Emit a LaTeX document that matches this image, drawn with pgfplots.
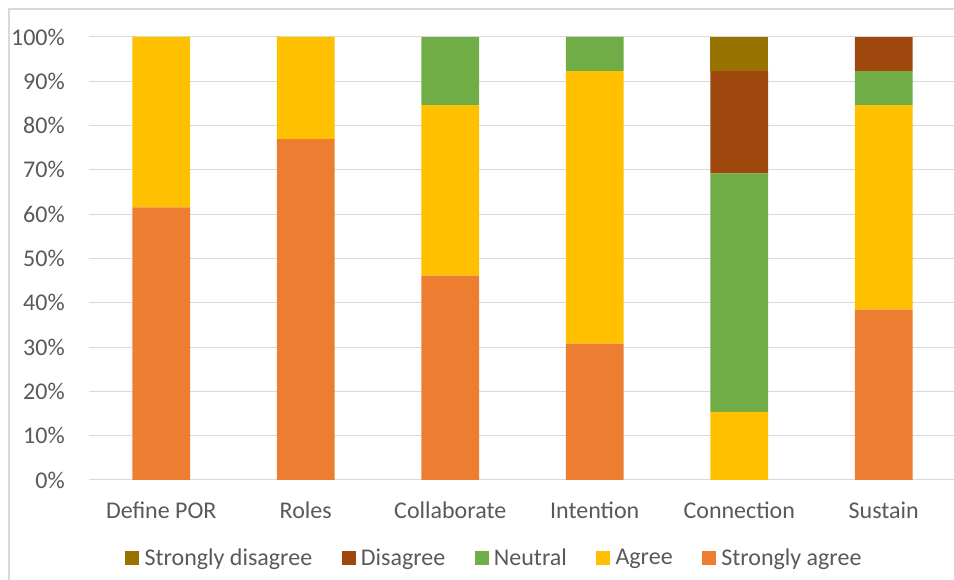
\documentclass[border=0pt]{standalone}
\usepackage{pgfplots}
\pgfplotsset{compat=1.18}
\usepackage{fontspec}
\setmainfont{Carlito}
\definecolor{cSA}{HTML}{ED7D31}
\definecolor{cA}{HTML}{FFC000}
\definecolor{cN}{HTML}{70AD47}
\definecolor{cD}{HTML}{9E480E}
\definecolor{cSD}{HTML}{997300}
\definecolor{txt}{HTML}{595959}
\definecolor{gridc}{HTML}{D9D9D9}
\begin{document}
\begin{tikzpicture}[x=0.75pt,y=0.75pt]
\clip (-89,-100) rectangle (865,480);
\useasboundingbox (-89,-100) rectangle (865,480);
\draw[draw=gridc, line width=1pt] (-80,-200) rectangle (1000,471);
\begin{axis}[
  at={(0,0)}, anchor=south west,
  scale only axis,
  width=648.75pt, height=332.25pt,
  ybar stacked,
  bar width=0.4,
  xmin=-0.5, xmax=5.486,
  ymin=0, ymax=100,
  ytick={0,10,...,100},
  xtick={0,1,2,3,4,5},
  xticklabels={Define POR,Roles,Collaborate,Intention,Connection,Sustain},
  yticklabel={\pgfmathprintnumber{\tick}\%},
  /pgf/number format/assume math mode=true,
  ymajorgrids,
  grid style={draw=gridc, line width=0.75pt},
  axis x line*=bottom,
  axis y line*=left,
  y axis line style={draw=none},
  x axis line style={draw=gridc, line width=0.75pt, -},
  major tick length=0pt,
  tick style={draw=none},
  ticklabel style={font=\fontsize{18}{21}\selectfont, text=txt},
  yticklabel style={anchor=east, inner sep=0pt, xshift=-18pt},
  xticklabel style={anchor=north, inner sep=0pt, yshift=-16pt},
  legend style={at={(0.469,-0.176)}, anchor=center, draw=none, fill=none,
    font=\fontsize{18}{21}\selectfont, text=txt,
    legend columns=5,
    /tikz/every odd column/.append style={column sep=2pt},
    /tikz/every even column/.append style={column sep=20pt},
    inner sep=0pt},
  legend cell align=left,
  reverse legend,
  legend image code/.code={\path[#1,draw=none] (0pt,-5.25pt) rectangle (10.5pt,5.25pt);},
  every axis plot/.append style={draw=none},
  clip=false,
]
\addplot[fill=cSA] coordinates {(0,61.54) (1,76.92) (2,46.15) (3,30.77) (4,0) (5,38.46)};
\addplot[fill=cA] coordinates {(0,38.46) (1,23.08) (2,38.46) (3,61.54) (4,15.38) (5,46.15)};
\addplot[fill=cN] coordinates {(0,0) (1,0) (2,15.38) (3,7.69) (4,53.85) (5,7.69)};
\addplot[fill=cD] coordinates {(0,0) (1,0) (2,0) (3,0) (4,23.08) (5,7.69)};
\addplot[fill=cSD] coordinates {(0,0) (1,0) (2,0) (3,0) (4,7.69) (5,0)};
\legend{Strongly agree,Agree,Neutral,Disagree,Strongly disagree}
\end{axis}
\end{tikzpicture}
\end{document}
